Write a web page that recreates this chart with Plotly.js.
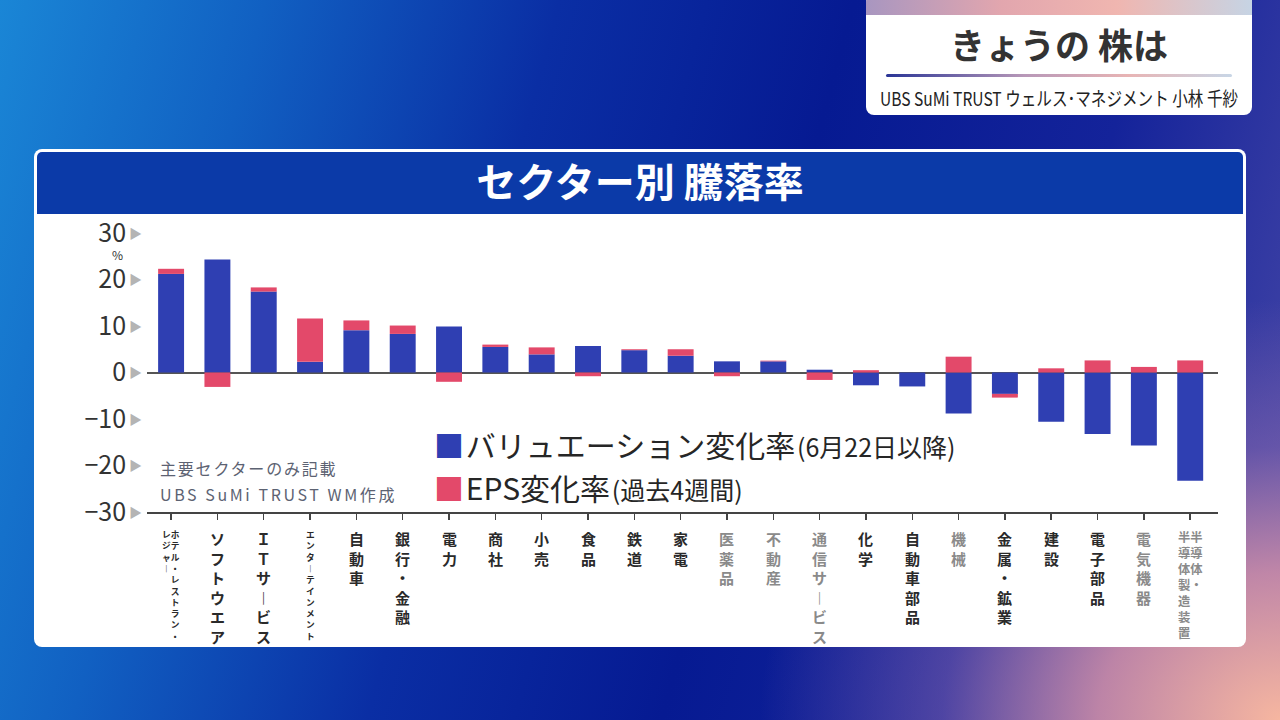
<!DOCTYPE html>
<html>
<head>
<meta charset="utf-8">
<script src="https://cdn.plot.ly/plotly-3.0.1.min.js"></script>
<style>
html,body{margin:0;padding:0;width:1280px;height:720px;overflow:hidden;}
body{
  font-family:"Noto Sans CJK JP","Noto Sans",sans-serif;
  background:
    radial-gradient(ellipse 520px 420px at 100% 100%, rgba(246,182,160,1) 0%, rgba(214,146,168,0.85) 35%, rgba(150,110,175,0.45) 65%, rgba(60,60,160,0) 100%),
    linear-gradient(105deg, #1a86d6 0%, #1160c2 18%, #0a2ea4 38%, #061a92 58%, #14239a 78%, #4a4aa8 100%);
}
#panel{position:absolute;left:34px;top:149px;width:1212px;height:498px;background:#fff;border-radius:8px;}
#header{position:absolute;left:37px;top:152px;width:1206px;height:62px;background:#0b3aa8;border-radius:5px 5px 0 0;}
#card{position:absolute;left:866px;top:-6px;width:386px;height:121px;background:#fff;border-radius:8px;overflow:hidden;}
#card .strip{position:absolute;left:0;top:0;width:100%;height:21px;background:linear-gradient(90deg,#a896c0 0%,#e2a6ae 35%,#f0b6b0 65%,#c6d4e4 100%);}
#card .ttl{position:absolute;left:0;top:27px;width:100%;text-align:center;font-size:35px;font-weight:bold;color:#333;line-height:46px;}
#card .rule{position:absolute;left:20px;top:80px;width:346px;height:3px;background:linear-gradient(90deg,#2a3596 0%,#b898b8 40%,#e8b4b4 70%,#c8d6e6 100%);border-radius:2px;}
#card .sub{position:absolute;left:50%;top:91px;white-space:nowrap;font-size:19px;line-height:26px;color:#222;transform:translateX(-50%) scaleX(0.82);transform-origin:center;}
#chart{position:absolute;left:0;top:0;width:1280px;height:720px;}
</style>
</head>
<body>
<div id="panel"></div>
<div id="header"></div>
<div id="card">
  <div class="strip"></div>
  <div class="ttl">きょうの 株は</div>
  <div class="rule"></div>
  <div class="sub">UBS SuMi TRUST ウェルス･マネジメント 小林 千紗</div>
</div>
<div id="chart"></div>
<script>
// ---- data ----
const categories = ["ホテル・レストラン・レジャー","ソフトウエア","ＩＴサービス","エンターテインメント","自動車","銀行・金融","電力","商社","小売","食品","鉄道","家電","医薬品","不動産","通信サービス","化学","自動車部品","機械","金属・鉱業","建設","電子部品","電気機器","半導体・半導体製造装置"];
const valuationChange = [21.2, 24.3, 17.4, 2.3, 9.1, 8.3, 9.9, 5.5, 3.9, 5.7, 4.8, 3.6, 2.4, 2.4, 0.6, -2.75, -3.0, -8.8, -4.6, -10.6, -13.2, -15.7, -23.3];
const epsChange = [1.1, -3.1, 0.9, 9.3, 2.1, 1.8, -2.0, 0.5, 1.5, -0.8, 0.2, 1.4, -0.8, 0.15, -1.6, 0.5, 0, 3.4, -0.8, 0.9, 2.6, 1.2, 2.6];
const seriesNames = ["バリュエーション変化率", "EPS変化率"];
const seriesNotes = ["(6月22日以降)", "(過去4週間)"];
const yTickValues = [30, 20, 10, 0, -10, -20, -30];
const chartTitle = "セクター別 騰落率";
const sourceNotes = ["主要セクターのみ記載", "UBS SuMi TRUST WM作成"];

// ---- style config ----
const BLUE = "#2f3fb2", RED = "#e3496a";
const FONT = "Noto Sans CJK JP";
const mutedLabels = new Set(["医薬品","不動産","通信サービス","機械","電気機器","半導体・半導体製造装置"]);
const labelSize = {"ホテル・レストラン・レジャー":8.7, "エンターテインメント":8.7, "半導体・半導体製造装置":12.3};
const defaultLabelSize = 15;
const labelSplit = {"ホテル・レストラン・レジャー":10, "半導体・半導体製造装置":4};

function vchar(c){ return c === "ー" ? "︱" : c; }
function vertical(name){
  const chars = [...name].map(vchar);
  const split = labelSplit[name];
  if(!split) return chars.join("<br>");
  const right = chars.slice(0, split), left = chars.slice(split);
  const n = Math.max(right.length, left.length);
  const lines = [];
  for(let i=0;i<n;i++) lines.push((left[i]||"　") + (right[i]||"　"));
  return lines.join("<br>");
}

const traces = [
  {type:"bar", name: seriesNames[0]+seriesNotes[0], x: categories, y: valuationChange, marker:{color:BLUE}, hoverinfo:"skip"},
  {type:"bar", name: seriesNames[1]+seriesNotes[1], x: categories, y: epsChange, marker:{color:RED}, hoverinfo:"skip"}
];

const annotations = [];
categories.forEach(c => {
  annotations.push({
    x: c, xref:"x", y:-0.05, yref:"paper", yanchor:"top", xanchor:"center",
    text: vertical(c), showarrow:false, align:"center",
    font:{family:FONT, size: labelSize[c] || defaultLabelSize, color: mutedLabels.has(c) ? "#8a8a8a" : "#2a2a2a", weight:"bold"}
  });
});
annotations.push({x:-0.028, xref:"paper", y:0.922, yref:"paper", yanchor:"middle", xanchor:"center", text:"%", showarrow:false,
  font:{family:FONT, size:12, color:"#333"}});
const legendY = [0.244, 0.09];
[BLUE, RED].forEach((col, i) => {
  annotations.push({
    x:0.266, xref:"paper", y:legendY[i], yref:"paper", xanchor:"left", yanchor:"middle", showarrow:false,
    text:`<span style="color:${col}">■</span><span style="font-size:8px"> </span>${seriesNames[i]}<span style="font-size:8px"> </span><span style="font-size:25px">${seriesNotes[i]}</span>`,
    font:{family:FONT, size:30, color:"#262626"}
  });
});
const noteY = [0.158, 0.064];
sourceNotes.forEach((t, i) => {
  annotations.push({
    x:0.01, xref:"paper", y:noteY[i], yref:"paper", xanchor:"left", yanchor:"middle", showarrow:false,
    text:`<span style="letter-spacing:${i===0?1.8:2.6}px">${t}</span>`,
    font:{family:FONT, size:16, color:"#5c6272"}
  });
});

const tri = '<span style="font-size:13px;color:#b4b4b4;baseline-shift:4px"> ▶</span>';
const layout = {
  width:1280, height:720,
  margin:{l:147, r:62, t:233, b:208},
  paper_bgcolor:"rgba(0,0,0,0)", plot_bgcolor:"rgba(0,0,0,0)",
  barmode:"relative", bargap:0.44, showlegend:false,
  title:{text:chartTitle, x:0.5, xref:"container", y:1-183/720, yref:"container", xanchor:"center", yanchor:"middle",
    font:{family:FONT, size:40, color:"#ffffff", weight:"bold"}},
  xaxis:{type:"category", range:[-0.52, 22.6], showline:true, linecolor:"#444", linewidth:2,
    ticks:"outside", ticklen:6, tickwidth:1.5, tickcolor:"#444", showticklabels:false, showgrid:false, fixedrange:true},
  yaxis:{range:[-30, 30], tickvals:yTickValues,
    ticktext: yTickValues.map(v => (v < 0 ? "−" + Math.abs(v) : String(v)) + tri),
    showgrid:false, zeroline:true, zerolinecolor:"#555", zerolinewidth:2, showline:false, ticks:"",
    ticklabelstandoff:4, tickfont:{family:FONT, size:25, color:"#333"}, fixedrange:true},
  annotations: annotations
};
Plotly.newPlot("chart", traces, layout, {staticPlot:true, displayModeBar:false});
</script>
</body>
</html>
